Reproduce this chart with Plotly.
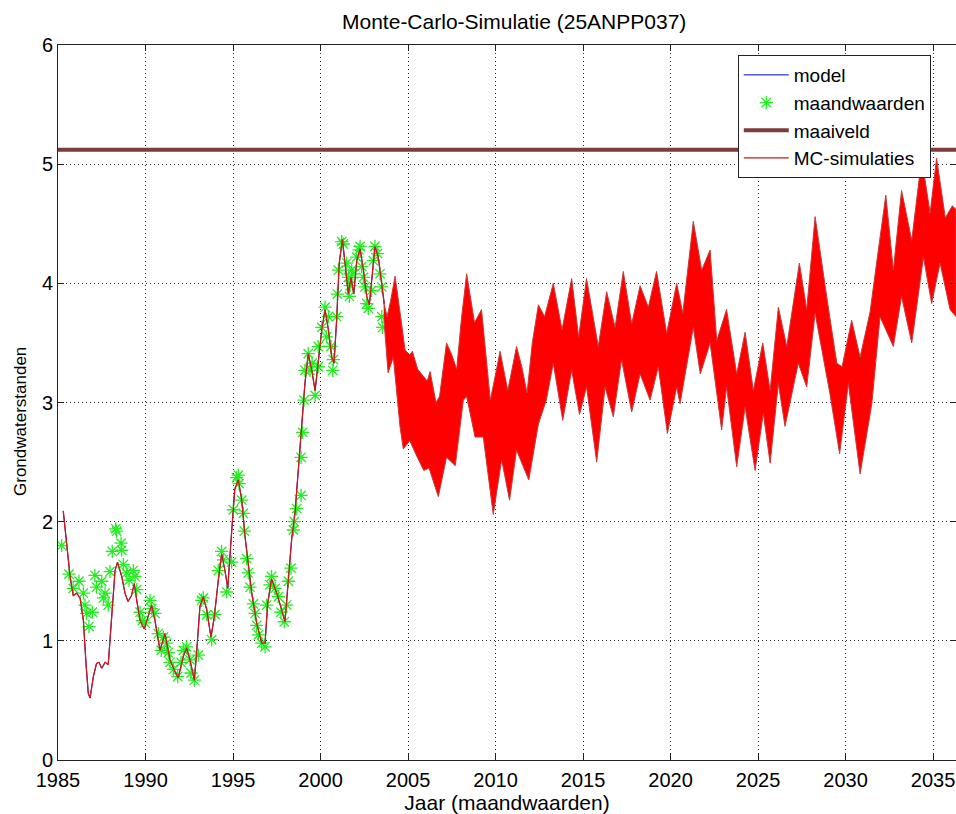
import plotly.graph_objects as go

# ---------------- data ----------------
# model / MC simulation in calibration period (single visible path)
sim_years = [1985.3, 1985.5, 1985.69, 1985.87, 1986.07, 1986.26, 1986.45, 1986.6, 1986.73, 1986.83,
             1987.02, 1987.2, 1987.34, 1987.5, 1987.69, 1987.87, 1988.07, 1988.26, 1988.4, 1988.64,
             1988.83, 1989.0, 1989.2, 1989.36, 1989.5, 1989.69, 1989.93, 1990.16, 1990.35, 1990.54,
             1990.83, 1991.11, 1991.4, 1991.69, 1991.87, 1992.16, 1992.35, 1992.54, 1992.79, 1992.92,
             1993.11, 1993.3, 1993.5, 1993.74, 1993.93, 1994.16, 1994.35, 1994.54, 1994.7, 1994.89,
             1995.1, 1995.3, 1995.5, 1995.69, 1995.87, 1996.07, 1996.35, 1996.64, 1996.83, 1996.98,
             1997.2, 1997.5, 1997.78, 1997.97, 1998.16, 1998.35, 1998.54, 1998.73, 1998.93, 1999.11,
             1999.3, 1999.5, 1999.69, 1999.87, 2000.07, 2000.26, 2000.45, 2000.64, 2000.77, 2000.92,
             2001.07, 2001.25, 2001.44, 2001.59, 2001.74, 2001.9, 2002.07, 2002.26, 2002.45, 2002.64,
             2002.79, 2002.96, 2003.11, 2003.3, 2003.5, 2003.64]
sim_values = [2.09, 1.79, 1.54, 1.38, 1.40, 1.36, 1.17, 0.81, 0.56, 0.52,
              0.70, 0.81, 0.82, 0.77, 0.82, 0.80, 1.23, 1.59, 1.66, 1.54,
              1.40, 1.33, 1.38, 1.48, 1.34, 1.17, 1.10, 1.20, 1.30, 1.17,
              0.92, 1.06, 0.84, 0.74, 0.69, 0.87, 0.94, 0.84, 0.67, 0.90,
              1.29, 1.37, 1.26, 1.03, 1.20, 1.51, 1.73, 1.59, 1.44, 1.85,
              2.27, 2.35, 2.18, 1.87, 1.65, 1.40, 1.15, 0.98, 0.98, 1.31,
              1.52, 1.40, 1.26, 1.16, 1.51, 1.85, 2.07, 2.43, 2.82, 3.16,
              3.41, 3.27, 3.10, 3.36, 3.61, 3.78, 3.61, 3.38, 3.33, 3.69,
              4.17, 4.37, 4.14, 3.91, 4.05, 3.91, 4.19, 4.29, 4.11, 3.89,
              3.82, 4.05, 4.31, 4.22, 4.00, 3.83]

# monthly observations (maandwaarden)
obs_years = [1985.21, 1985.63, 1985.87, 1986.2, 1986.45, 1986.54, 1986.64, 1986.77, 1986.96, 1987.11,
             1987.2, 1987.5, 1987.6, 1987.69, 1987.87, 1987.97, 1988.1, 1988.3, 1988.35, 1988.6,
             1988.64, 1988.73, 1988.92, 1989.06, 1989.3, 1989.4, 1989.5, 1989.69, 1989.82, 1989.97,
             1990.26, 1990.35, 1990.54, 1990.73, 1990.9, 1991.02, 1991.2, 1991.3, 1991.4, 1991.59,
             1991.84, 1992.03, 1992.16, 1992.35, 1992.54, 1992.6, 1992.79, 1993.02, 1993.21, 1993.3,
             1993.5, 1993.78, 1993.97, 1994.16, 1994.35, 1994.45, 1994.64, 1994.92, 1995.02, 1995.2,
             1995.3, 1995.35, 1995.5, 1995.59, 1995.65, 1995.78, 1995.87, 1995.97, 1996.16, 1996.26,
             1996.35, 1996.45, 1996.64, 1996.83, 1996.92, 1997.11, 1997.2, 1997.4, 1997.59, 1997.74,
             1997.93, 1998.07, 1998.16, 1998.31, 1998.45, 1998.5, 1998.64, 1998.89, 1998.89, 1998.98,
             1999.06, 1999.11, 1999.3, 1999.4, 1999.52, 1999.69, 1999.87, 1999.87, 2000.07, 2000.26,
             2000.35, 2000.45, 2000.6, 2000.7, 2000.73, 2000.92, 2000.96, 2001.02, 2001.21, 2001.3,
             2001.5, 2001.59, 2001.65, 2001.69, 2001.78, 2001.85, 2002.07, 2002.2, 2002.26, 2002.35,
             2002.45, 2002.54, 2002.64, 2002.73, 2002.92, 2003.02, 2003.11, 2003.26, 2003.4, 2003.5,
             2003.5, 2003.55]
obs_values = [1.80, 1.56, 1.44, 1.50, 1.40, 1.30, 1.23, 1.12, 1.24, 1.55,
              1.45, 1.50, 1.36, 1.40, 1.30, 1.58, 1.75, 1.94, 1.92, 1.82,
              1.76, 1.64, 1.57, 1.51, 1.59, 1.54, 1.43, 1.24, 1.17, 1.15,
              1.34, 1.27, 1.23, 1.06, 0.92, 1.03, 0.98, 0.90, 0.82, 0.76,
              0.70, 0.82, 0.92, 0.95, 0.84, 0.73, 0.67, 0.88, 1.34, 1.36,
              1.22, 1.01, 1.22, 1.59, 1.75, 1.68, 1.41, 1.66, 2.10, 2.37,
              2.39, 2.32, 2.18, 2.07, 1.92, 1.69, 1.57, 1.45, 1.31, 1.23,
              1.13, 1.05, 0.98, 0.95, 1.30, 1.47, 1.54, 1.44, 1.37, 1.24,
              1.16, 1.30, 1.50, 1.61, 1.93, 2.00, 2.11, 2.22, 2.54, 2.75,
              3.02, 3.27, 3.41, 3.27, 3.33, 3.06, 3.30, 3.47, 3.63, 3.80,
              3.55, 3.72, 3.47, 3.27, 3.36, 3.72, 3.91, 4.11, 4.35, 4.33,
              4.17, 4.05, 3.89, 3.98, 4.11, 4.08, 4.22, 4.28, 4.31, 4.14,
              4.05, 3.97, 3.83, 3.79, 3.94, 4.19, 4.31, 4.25, 4.08, 3.97,
              3.72, 3.63]

# ground level (maaiveld)
maaiveld_years = [1985.0, 2036.31]
maaiveld_values = [5.12, 5.12]

# Monte-Carlo envelope (upper and lower edge of the bundle of simulations)
mc_upper_years = [2003.60, 2003.80, 2004.00, 2004.26, 2004.55, 2004.83, 2005.10, 2005.25, 2005.55, 2005.85,
                  2006.10, 2006.26, 2006.60, 2006.80, 2007.20, 2007.50, 2007.78, 2008.05, 2008.35, 2008.80,
                  2009.20, 2009.45, 2009.70, 2009.95, 2010.26, 2010.70, 2011.20, 2011.50, 2011.80, 2012.10,
                  2012.45, 2012.80, 2013.30, 2013.80, 2014.35, 2014.75, 2015.20, 2015.87, 2016.35, 2016.83,
                  2017.30, 2017.78, 2018.26, 2018.73, 2019.20, 2019.78, 2020.35, 2020.70, 2021.30, 2021.78,
                  2022.26, 2022.64, 2023.20, 2023.78, 2024.26, 2024.73, 2025.27, 2025.69, 2026.16, 2026.64,
                  2027.36, 2027.78, 2028.26, 2028.92, 2029.50, 2029.80, 2030.35, 2030.83, 2031.40, 2031.80,
                  2032.30, 2032.73, 2033.20, 2033.78, 2034.35, 2034.83, 2035.20, 2035.70, 2036.10, 2036.31]
mc_upper_values = [3.85, 3.72, 3.85, 4.06, 3.75, 3.44, 3.40, 3.43, 3.28, 3.22,
                   3.18, 3.26, 3.00, 3.05, 3.50, 3.40, 3.28, 3.70, 4.08, 3.67,
                   3.78, 3.40, 3.02, 3.20, 3.43, 3.10, 3.47, 3.30, 3.08, 3.50,
                   3.82, 3.72, 4.00, 3.61, 4.04, 3.55, 4.04, 3.47, 3.93, 3.63,
                   4.10, 3.66, 3.98, 3.80, 4.10, 3.58, 4.00, 3.75, 4.52, 4.11,
                   4.28, 3.52, 3.78, 3.24, 3.59, 3.10, 3.50, 3.10, 3.80, 3.47,
                   4.17, 3.78, 4.56, 3.89, 3.33, 3.30, 3.69, 3.38, 3.76, 4.20,
                   4.74, 4.11, 4.78, 4.36, 5.05, 4.59, 5.05, 4.55, 4.65, 4.62]
mc_lower_years = [2003.62, 2003.86, 2004.16, 2004.54, 2004.73, 2005.10, 2005.50, 2005.90, 2006.20, 2006.73,
                  2007.20, 2007.70, 2008.16, 2008.35, 2008.83, 2009.30, 2009.87, 2010.35, 2010.80, 2011.20,
                  2011.90, 2012.45, 2012.90, 2013.30, 2013.84, 2014.35, 2014.80, 2015.20, 2015.78, 2016.26,
                  2016.73, 2017.20, 2017.78, 2018.26, 2018.83, 2019.30, 2019.82, 2020.35, 2020.54, 2021.30,
                  2021.70, 2022.26, 2022.92, 2023.20, 2023.78, 2024.26, 2024.83, 2025.30, 2025.69, 2026.16,
                  2026.54, 2027.30, 2027.78, 2028.26, 2029.10, 2029.66, 2030.16, 2030.83, 2031.50, 2031.97,
                  2032.73, 2033.20, 2033.78, 2034.45, 2034.92, 2035.40, 2035.97, 2036.31]
mc_lower_values = [3.70, 3.25, 3.38, 2.80, 2.61, 2.68, 2.55, 2.43, 2.45, 2.21,
                   2.54, 2.47, 3.02, 3.05, 2.71, 2.71, 2.06, 2.52, 2.18, 2.60,
                   2.35, 2.82, 3.02, 3.33, 2.85, 3.27, 2.90, 3.13, 2.50, 3.13,
                   2.88, 3.36, 2.92, 3.24, 3.02, 3.30, 2.74, 3.13, 2.99, 3.63,
                   3.24, 3.50, 2.77, 3.13, 2.46, 2.96, 2.43, 2.91, 2.49, 3.16,
                   2.80, 3.33, 3.13, 3.75, 3.08, 2.57, 3.16, 2.40, 2.99, 3.72,
                   3.47, 3.89, 3.50, 4.22, 3.83, 4.17, 3.78, 3.72]

x_ticks = [1985, 1990, 1995, 2000, 2005, 2010, 2015, 2020, 2025, 2030, 2035]
y_ticks = [0, 1, 2, 3, 4, 5, 6]

FONT = "Arial, Liberation Sans, sans-serif"

# ---------------- figure ----------------
fig = go.Figure()

fig.add_trace(go.Scatter(x=sim_years, y=sim_values, mode="lines", name="model",
                         line=dict(color="#0000cc", width=1), legendrank=1))
fig.add_trace(go.Scatter(x=obs_years, y=obs_values, mode="markers", name="maandwaarden",
                         marker=dict(symbol="asterisk-open", size=11, color="#22ee22",
                                     line=dict(color="#22ee22", width=1.3)),
                         legendrank=2))
fig.add_trace(go.Scatter(x=maaiveld_years, y=maaiveld_values, mode="lines", name="maaiveld",
                         line=dict(color="#7d3c3c", width=4), legendrank=3))
# MC bundle as polygon between envelopes
band_x = mc_upper_years + mc_lower_years[::-1]
band_y = mc_upper_values + mc_lower_values[::-1]
fig.add_trace(go.Scatter(x=band_x, y=band_y, mode="lines", fill="toself",
                         fillcolor="#ff0000", line=dict(color="#c83a3a", width=1),
                         showlegend=False, hoverinfo="skip"))
fig.add_trace(go.Scatter(x=sim_years, y=sim_values, mode="lines", name="MC-simulaties",
                         line=dict(color="#cc1a1a", width=1.3), legendrank=4))

axis_common = dict(
    showline=True, linecolor="#222", linewidth=1, mirror="ticks",
    ticks="inside", ticklen=6, tickcolor="#222",
    showgrid=True, gridcolor="#222", griddash="1px,3px", gridwidth=1,
    zeroline=False, tickfont=dict(family=FONT, size=20, color="#000"),
)

fig.update_layout(
    width=956, height=814,
    margin=dict(l=58, r=0, t=45, b=54),
    paper_bgcolor="white", plot_bgcolor="white",
    title=dict(text="Monte-Carlo-Simulatie (25ANPP037)", x=0.508, xref="paper",
               xanchor="center",
               y=1 - 22 / 814, yref="container", yanchor="middle",
               font=dict(family=FONT, size=21, color="#000")),
    xaxis=dict(range=[1985, 2036.31], tickvals=x_ticks, ticklabelstandoff=2,
               title=dict(text="Jaar (maandwaarden)", standoff=0,
                          font=dict(family=FONT, size=21, color="#000")),
               **axis_common),
    yaxis=dict(range=[0, 6], tickvals=y_ticks, **axis_common),
    annotations=[dict(text="Grondwaterstanden", textangle=-90, showarrow=False,
                      xref="paper", yref="paper", x=(20 - 58) / 898, y=(760 - 422) / 715,
                      xanchor="center", yanchor="middle",
                      font=dict(family=FONT, size=17, color="#000"))],
    legend=dict(x=0.757, xanchor="left", y=0.986, yanchor="top",
                bgcolor="white", bordercolor="#222", borderwidth=1,
                font=dict(family=FONT, size=19, color="#000"),
                tracegroupgap=0, itemwidth=45, entrywidth=200),
    showlegend=True,
)

fig.write_html("out.html")
